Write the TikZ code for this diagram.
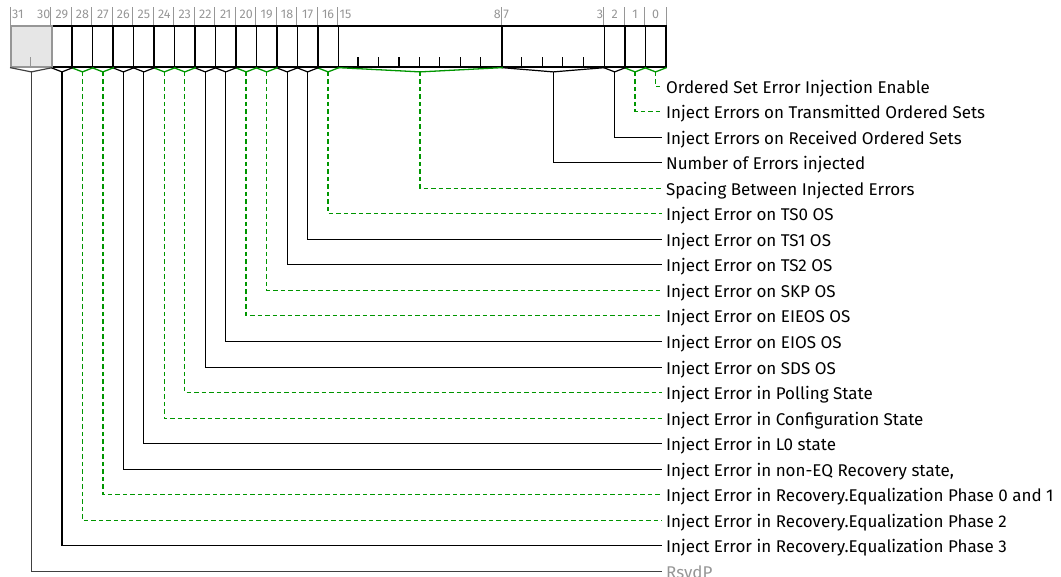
\documentclass[tikz,border=0pt]{standalone}
\usepackage{fontspec}
\setmainfont{Fira Sans}
\definecolor{dgreen}{RGB}{0,150,0}
\definecolor{hdrgray}{RGB}{150,150,150}
\definecolor{rsvfill}{RGB}{230,230,230}
\definecolor{rsvline}{RGB}{150,150,150}
\def\W{20.46875}
\tikzset{
  fieldbox/.style={draw=black, line width=1.6bp, inner sep=0pt, minimum height=41bp, anchor=north west},
  rsvbox/.style={fieldbox, draw=rsvline, fill=rsvfill},
  gline/.style={draw=dgreen, line width=1.4bp, dash pattern=on 4.5bp off 3bp},
  bline/.style={draw=black, line width=1.2bp},
  rline/.style={draw=black!75, line width=1.2bp},
  gv/.style={draw=dgreen, line width=1.3bp},
  bv/.style={draw=black, line width=1.2bp},
  rv/.style={draw=black!75, line width=1.2bp},
  lbl/.style={anchor=west, inner xsep=4bp, inner ysep=0pt, text height=13.4bp, text depth=0pt, font=\fontsize{17bp}{19bp}\selectfont},
  hdr/.style={inner sep=0pt, text=hdrgray, font=\fontsize{12.5bp}{14bp}\selectfont},
  hdrtick/.style={draw=hdrgray, line width=1bp},
  intick/.style={draw=black, line width=1.2bp},
}
\begin{document}
\begin{tikzpicture}[x=1bp,y=-1bp]
\useasboundingbox (0,0) rectangle (1061,577);
\foreach \m/\l/\st/\k/\txt in {
  0/0/g/0/{Ordered Set Error Injection Enable},
  1/1/g/1/{Inject Errors on Transmitted Ordered Sets},
  2/2/b/2/{Inject Errors on Received Ordered Sets},
  7/3/b/3/{Number of Errors injected},
  15/8/g/4/{Spacing Between Injected Errors},
  16/16/g/5/{Inject Error on TS0 OS},
  17/17/b/6/{Inject Error on TS1 OS},
  18/18/b/7/{Inject Error on TS2 OS},
  19/19/g/8/{Inject Error on SKP OS},
  20/20/g/9/{Inject Error on EIEOS OS},
  21/21/b/10/{Inject Error on EIOS OS},
  22/22/b/11/{Inject Error on SDS OS},
  23/23/g/12/{Inject Error in Polling State},
  24/24/g/13/{Inject Error in Configuration State},
  25/25/b/14/{Inject Error in L0 state},
  26/26/b/15/{Inject Error in non-EQ Recovery state,},
  27/27/g/16/{Inject Error in Recovery.Equalization Phase 0 and 1},
  28/28/g/17/{Inject Error in Recovery.Equalization Phase 2},
  29/29/b/18/{Inject Error in Recovery.Equalization Phase 3},
  31/30/r/19/{\textcolor{hdrgray}{RsvdP}}} {
  \pgfmathsetmacro\fw{(\m-\l+1)*\W}
  \pgfmathsetmacro\fx{10+(31-\m)*\W}
  \pgfmathsetmacro\ly{round(85.5+25.55*\k)+0.5}
  \ifnum\k=19
    \node[rsvbox, minimum width=\fw bp] (f\k) at (\fx,25) {};
  \else
    \node[fieldbox, minimum width=\fw bp] (f\k) at (\fx,25) {};
  \fi
  \coordinate (p\k) at ([yshift=-4.3bp]f\k.south);
  \draw[\st v] (f\k.south west) -- (p\k) -- (f\k.south east);
  \node[lbl] (l\k) at (662,\ly) {\txt};
  \draw[\st line] (p\k) |- (l\k.west);
  \draw[hdrtick] (f\k.north west) -- ++(0,-18);
  \ifnum\m=\l
    \node[hdr] (h\k) at ([yshift=10.5bp]f\k.north) {\m};
  \else
    \node[hdr, anchor=west] (h\k) at ([xshift=2bp,yshift=10.5bp]f\k.north west) {\m};
    \node[hdr, anchor=east] (hl\k) at ([xshift=-2bp,yshift=10.5bp]f\k.north east) {\l};
  \fi
}
\draw[hdrtick] (f0.north east) -- ++(0,-18);
% interior bit ticks
\foreach \i in {1,...,7} {
  \draw[intick] ([xshift=\i*\W bp]f4.south west) -- ++(0,-10.5);
}
\foreach \i in {1,...,4} {
  \draw[intick] ([xshift=\i*\W bp]f3.south west) -- ++(0,-10.5);
}
\draw[hdrtick] ([xshift=\W bp]f19.south west) -- ++(0,-10.5);
\end{tikzpicture}
\end{document}
